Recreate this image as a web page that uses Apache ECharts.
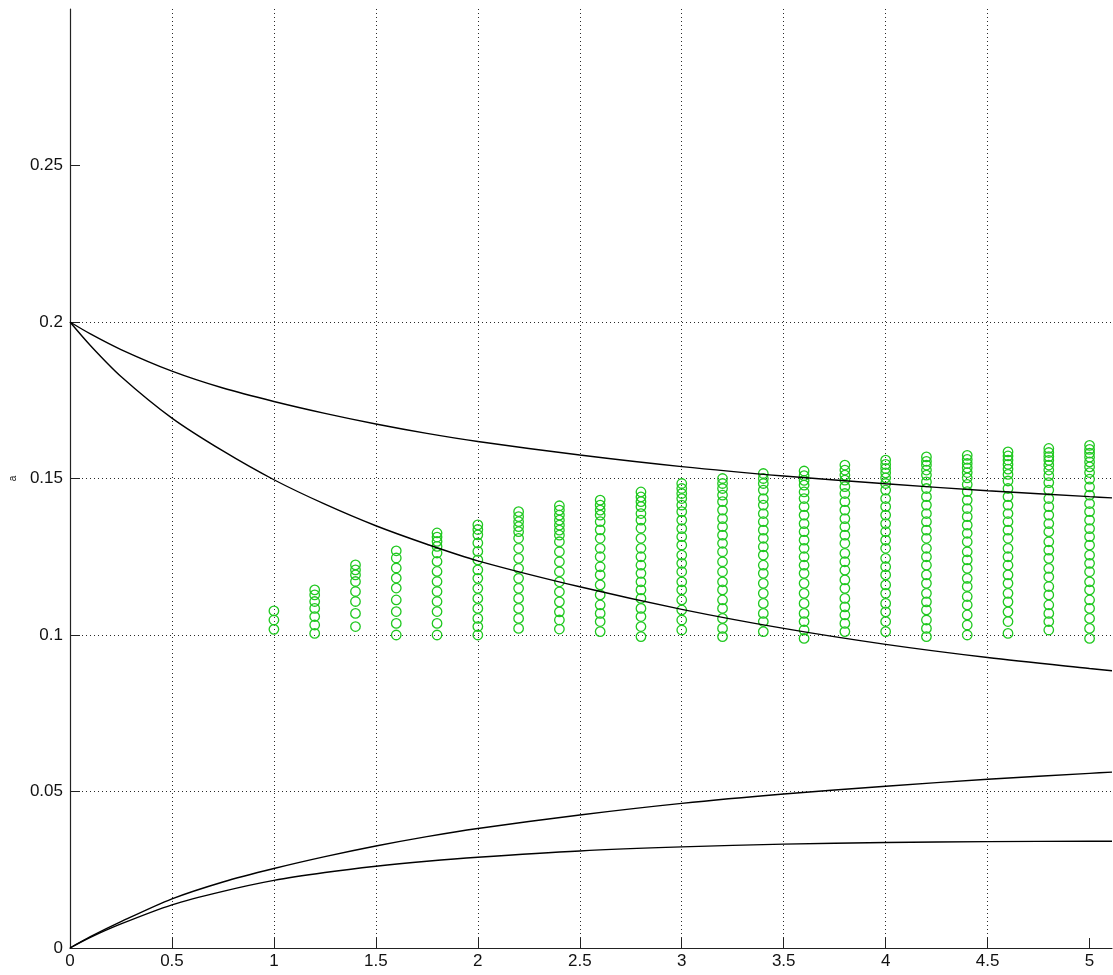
<!DOCTYPE html>
<html>
<head>
<meta charset="utf-8">
<script src="https://cdn.jsdelivr.net/npm/echarts@6/dist/echarts.min.js"></script>
<style>
  html, body { margin: 0; padding: 0; background: #fff; }
  #chart { width: 1113px; height: 975px; }
</style>
</head>
<body>
<div id="chart"></div>
<script>
// x positions of the four boundary curves
const curveX = [0, 0.1, 0.25, 0.5, 0.75, 1, 1.25, 1.5, 1.75, 2, 2.5, 3, 3.5, 4, 4.5, 5, 5.11];
const upperOuter = [0.2, 0.1962, 0.1912, 0.1843, 0.1789, 0.1746, 0.1708, 0.1674, 0.1644, 0.1618, 0.1575, 0.1538, 0.1508, 0.1483, 0.1461, 0.1442, 0.1438];
const upperInner = [0.2, 0.1925, 0.1826, 0.1693, 0.1588, 0.1496, 0.1418, 0.1349, 0.1290, 0.1237, 0.1154, 0.1082, 0.1021, 0.0970, 0.0928, 0.0893, 0.0886];
const lowerOuter = [0, 0.0036, 0.0084, 0.0157, 0.0211, 0.0254, 0.0292, 0.0326, 0.0356, 0.0382, 0.0425, 0.0462, 0.0492, 0.0517, 0.0539, 0.0558, 0.0562];
const lowerInner = [0, 0.0034, 0.0077, 0.0138, 0.0181, 0.0216, 0.0241, 0.0261, 0.0277, 0.0290, 0.0310, 0.0323, 0.0332, 0.0337, 0.0340, 0.0341, 0.0341];

// sampled points: one column of a-values per x
const sampleX = [1.0, 1.2, 1.4, 1.6, 1.8, 2.0, 2.2, 2.4, 2.6, 2.8, 3.0, 3.2, 3.4, 3.6, 3.8, 4.0, 4.2, 4.4, 4.6, 4.8, 5.0];
const sampleA = [
  [0.1018, 0.1048, 0.1077],
  [0.1005, 0.1032, 0.1059, 0.1085, 0.1107, 0.1128, 0.1144],
  [0.1027, 0.1069, 0.1107, 0.1139, 0.1171, 0.1192, 0.1208, 0.1224],
  [0.1000, 0.1037, 0.1075, 0.1112, 0.1150, 0.1182, 0.1214, 0.1246, 0.1269],
  [0.1000, 0.1037, 0.1075, 0.1107, 0.1139, 0.1171, 0.1203, 0.1235, 0.1262, 0.1283, 0.1299, 0.1313, 0.1326],
  [0.1000, 0.1027, 0.1053, 0.1085, 0.1117, 0.1149, 0.1181, 0.1208, 0.1240, 0.1267, 0.1294, 0.1320, 0.1337, 0.1352],
  [0.1021, 0.1053, 0.1085, 0.1117, 0.1149, 0.1181, 0.1213, 0.1245, 0.1277, 0.1309, 0.1330, 0.1346, 0.1362, 0.1378, 0.1394],
  [0.1019, 0.1048, 0.1074, 0.1106, 0.1138, 0.1170, 0.1202, 0.1234, 0.1266, 0.1298, 0.1319, 0.1335, 0.1351, 0.1367, 0.1383, 0.1399, 0.1413],
  [0.1011, 0.1043, 0.1069, 0.1096, 0.1128, 0.1160, 0.1192, 0.1218, 0.1250, 0.1277, 0.1309, 0.1336, 0.1362, 0.1383, 0.1399, 0.1415, 0.1431],
  [0.0995, 0.1027, 0.1059, 0.1085, 0.1117, 0.1144, 0.1170, 0.1197, 0.1223, 0.1250, 0.1277, 0.1309, 0.1341, 0.1367, 0.1388, 0.1410, 0.1426, 0.1441, 0.1457],
  [0.1016, 0.1048, 0.1080, 0.1112, 0.1144, 0.1170, 0.1202, 0.1229, 0.1255, 0.1287, 0.1314, 0.1340, 0.1367, 0.1394, 0.1415, 0.1436, 0.1452, 0.1468, 0.1484],
  [0.0995, 0.1021, 0.1053, 0.1085, 0.1112, 0.1144, 0.1170, 0.1202, 0.1234, 0.1266, 0.1293, 0.1319, 0.1346, 0.1372, 0.1399, 0.1426, 0.1447, 0.1468, 0.1484, 0.1500],
  [0.1011, 0.1043, 0.1069, 0.1101, 0.1133, 0.1165, 0.1197, 0.1223, 0.1255, 0.1282, 0.1309, 0.1335, 0.1362, 0.1388, 0.1415, 0.1436, 0.1463, 0.1484, 0.1500, 0.1516],
  [0.0989, 0.1016, 0.1043, 0.1069, 0.1101, 0.1133, 0.1165, 0.1197, 0.1223, 0.1250, 0.1277, 0.1303, 0.1330, 0.1356, 0.1383, 0.1410, 0.1436, 0.1457, 0.1479, 0.1494, 0.1509, 0.1524],
  [0.1011, 0.1037, 0.1064, 0.1090, 0.1117, 0.1149, 0.1176, 0.1207, 0.1234, 0.1261, 0.1293, 0.1319, 0.1346, 0.1372, 0.1399, 0.1426, 0.1452, 0.1474, 0.1495, 0.1511, 0.1527, 0.1543],
  [0.1011, 0.1043, 0.1074, 0.1101, 0.1133, 0.1160, 0.1192, 0.1218, 0.1245, 0.1277, 0.1303, 0.1330, 0.1356, 0.1383, 0.1410, 0.1436, 0.1463, 0.1484, 0.1502, 0.1518, 0.1532, 0.1545, 0.1559],
  [0.0995, 0.1021, 0.1048, 0.1080, 0.1106, 0.1133, 0.1165, 0.1192, 0.1223, 0.1250, 0.1277, 0.1309, 0.1335, 0.1362, 0.1388, 0.1415, 0.1442, 0.1468, 0.1489, 0.1511, 0.1527, 0.1543, 0.1555, 0.1569],
  [0.1000, 0.1032, 0.1064, 0.1096, 0.1123, 0.1155, 0.1181, 0.1213, 0.1240, 0.1266, 0.1298, 0.1325, 0.1351, 0.1378, 0.1404, 0.1431, 0.1458, 0.1481, 0.1502, 0.1519, 0.1534, 0.1548, 0.1561, 0.1574],
  [0.1005, 0.1043, 0.1074, 0.1106, 0.1133, 0.1165, 0.1192, 0.1223, 0.1250, 0.1277, 0.1309, 0.1335, 0.1362, 0.1388, 0.1415, 0.1442, 0.1468, 0.1492, 0.1513, 0.1530, 0.1545, 0.1559, 0.1572, 0.1585],
  [0.1016, 0.1043, 0.1069, 0.1096, 0.1128, 0.1155, 0.1186, 0.1213, 0.1245, 0.1271, 0.1298, 0.1330, 0.1356, 0.1383, 0.1410, 0.1436, 0.1463, 0.1487, 0.1509, 0.1527, 0.1543, 0.1558, 0.1570, 0.1583, 0.1596],
  [0.0989, 0.1021, 0.1053, 0.1085, 0.1112, 0.1144, 0.1170, 0.1202, 0.1229, 0.1255, 0.1287, 0.1314, 0.1340, 0.1367, 0.1394, 0.1420, 0.1447, 0.1473, 0.1498, 0.1519, 0.1537, 0.1553, 0.1568, 0.1581, 0.1593, 0.1606]
];

const xTicks = [0, 0.5, 1, 1.5, 2, 2.5, 3, 3.5, 4, 4.5, 5];
const yTicks = [0, 0.05, 0.1, 0.15, 0.2, 0.25];

const labelFont = "'Liberation Sans Narrow', 'Liberation Sans', Arial, sans-serif";

const points = [];
sampleX.forEach((x, i) => sampleA[i].forEach(a => points.push([x, a])));

const curve = vals => curveX.map((x, i) => [x, vals[i]]);

const gridLine = { show: true, showMinLine: false, showMaxLine: false,
  lineStyle: { color: '#2a2a2a', width: 1, type: [1, 3] } };

const chart = echarts.init(document.getElementById('chart'), null, { renderer: 'canvas' });
chart.setOption({
  animation: false,
  backgroundColor: '#ffffff',
  grid: { left: 68, right: 1, top: 9, bottom: 27, containLabel: false },
  xAxis: {
    type: 'value', min: 0, max: 5.11, interval: 0.5,
    axisLine: { show: true, onZero: false, lineStyle: { color: '#222', width: 1.2 } },
    axisTick: { show: true, inside: true, length: 10, customValues: xTicks, lineStyle: { color: '#222' } },
    axisLabel: { show: true, margin: 5, customValues: xTicks, color: '#111', fontSize: 17, fontFamily: labelFont,
      formatter: v => String(v) },
    splitLine: gridLine
  },
  yAxis: {
    type: 'value', min: 0, max: 0.3, interval: 0.05,
    name: 'a', nameLocation: 'middle', nameRotate: 90, nameGap: 52,
    nameTextStyle: { color: '#111', fontSize: 10, fontFamily: labelFont },
    axisLine: { show: true, onZero: false, lineStyle: { color: '#222', width: 1.2 } },
    axisTick: { show: true, inside: true, length: 10, customValues: yTicks, lineStyle: { color: '#222' } },
    axisLabel: { show: true, margin: 7, customValues: yTicks, color: '#111', fontSize: 17, fontFamily: labelFont,
      formatter: v => String(+v.toFixed(2)) },
    splitLine: gridLine
  },
  series: [
    {
      type: 'scatter', data: points, symbol: 'circle', symbolSize: 9.5, z: 2,
      itemStyle: { color: 'rgba(0,0,0,0)', opacity: 1, borderColor: '#1fc81f', borderWidth: 1.3 }
    },
    ...[upperOuter, upperInner, lowerOuter, lowerInner].map(vals => ({
      type: 'line', data: curve(vals), smooth: 0.3, showSymbol: false, z: 3,
      lineStyle: { color: '#000', width: 1.4 }
    }))
  ]
});
</script>
</body>
</html>
